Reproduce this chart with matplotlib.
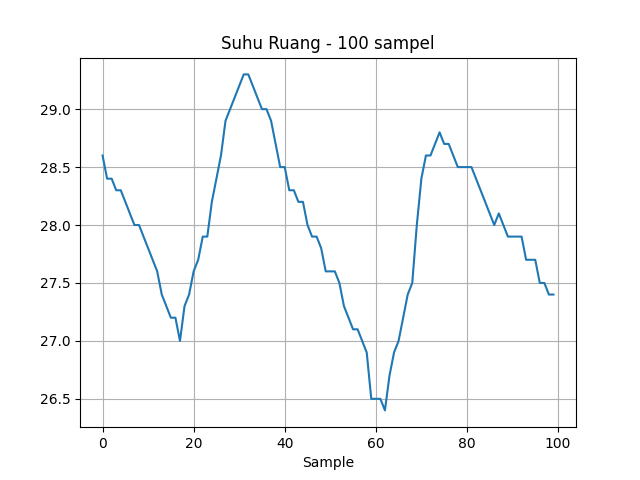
import matplotlib
matplotlib.use("Agg")
import matplotlib.pyplot as plt

# Suhu ruang, 100 sampel
suhu = [
    28.6, 28.4, 28.4, 28.3, 28.3, 28.2, 28.1, 28.0, 28.0, 27.9,
    27.8, 27.7, 27.6, 27.4, 27.3, 27.2, 27.2, 27.0, 27.3, 27.4,
    27.6, 27.7, 27.9, 27.9, 28.2, 28.4, 28.6, 28.9, 29.0, 29.1,
    29.2, 29.3, 29.3, 29.2, 29.1, 29.0, 29.0, 28.9, 28.7, 28.5,
    28.5, 28.3, 28.3, 28.2, 28.2, 28.0, 27.9, 27.9, 27.8, 27.6,
    27.6, 27.6, 27.5, 27.3, 27.2, 27.1, 27.1, 27.0, 26.9, 26.5,
    26.5, 26.5, 26.4, 26.7, 26.9, 27.0, 27.2, 27.4, 27.5, 28.0,
    28.4, 28.6, 28.6, 28.7, 28.8, 28.7, 28.7, 28.6, 28.5, 28.5,
    28.5, 28.5, 28.4, 28.3, 28.2, 28.1, 28.0, 28.1, 28.0, 27.9,
    27.9, 27.9, 27.9, 27.7, 27.7, 27.7, 27.5, 27.5, 27.4, 27.4,
]
sample = list(range(len(suhu)))

plt.figure(figsize=(6.4, 4.8), dpi=100)
plt.plot(sample, suhu)
plt.title("Suhu Ruang - 100 sampel")
plt.xlabel("Sample")
plt.grid(True)
plt.savefig("out.png")
